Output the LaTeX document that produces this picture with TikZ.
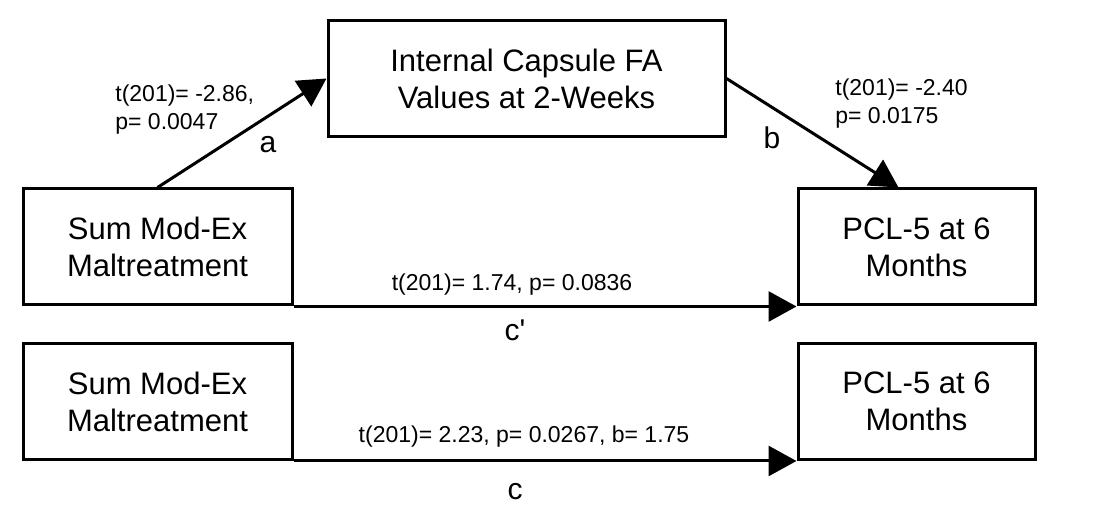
\documentclass[tikz,border=0pt]{standalone}
\usepackage{fontspec}
\setmainfont{Liberation Sans}
\usetikzlibrary{arrows.meta,positioning}

\begin{document}
\begin{tikzpicture}[
  x=0.5pt, y=-0.5pt,
  box/.style={draw, line width=1.5pt, align=center, inner sep=0pt, minimum height=58pt, font=\fontsize{15.5}{18.5}\selectfont},
  srcbox/.style={box, minimum width=134.5pt},
  outbox/.style={box, minimum width=118.5pt},
  medbox/.style={box, minimum width=198.5pt},
  stat/.style={align=left, inner sep=0pt, font=\fontsize{11.5}{14}\selectfont},
  pathlbl/.style={inner sep=0pt, font=\fontsize{15}{18}\selectfont},
  arrow/.style={-{Triangle[length=14pt, width=15pt]}, line width=1.5pt}
]
\useasboundingbox (0,0) rectangle (1094,522);

% mediation model
\node[medbox] (fa) at (526.5,78.5) {Internal Capsule FA\\Values at 2-Weeks};
\node[srcbox] (malt) at (157.5,247) {Sum Mod-Ex\\Maltreatment};
\node[outbox] (pcl) at (916.5,247) {PCL-5 at 6\\Months};
\draw[arrow] (malt.north) -- (fa.west);
\draw[arrow] (fa.east) -- ([xshift=-9pt]pcl.north);
\draw[arrow] (malt.south east) -- (pcl.south west);

\node[stat, anchor=west] (statA) at (115,110) {t(201)= -2.86,\\p= 0.0047};
\node[pathlbl] (labA) at (268,145) {a};
\node[stat, anchor=west] (statB) at (835,104) {t(201)= -2.40\\p= 0.0175};
\node[pathlbl] (labB) at (772,138) {b};
\node[stat] (statCp) at (512,285) {t(201)= 1.74, p= 0.0836};
\node[pathlbl] (labCp) at (515,330) {c\textquotesingle};

% total effect
\node[srcbox] (malttot) at (157.5,401.5) {Sum Mod-Ex\\Maltreatment};
\node[outbox] (pcltot) at (916.5,401.5) {PCL-5 at 6\\Months};
\draw[arrow] (malttot.south east) -- (pcltot.south west);

\node[stat] (statC) at (524,437) {t(201)= 2.23, p= 0.0267, b= 1.75};
\node[pathlbl] (labC) at (515,492) {c};
\end{tikzpicture}
\end{document}
